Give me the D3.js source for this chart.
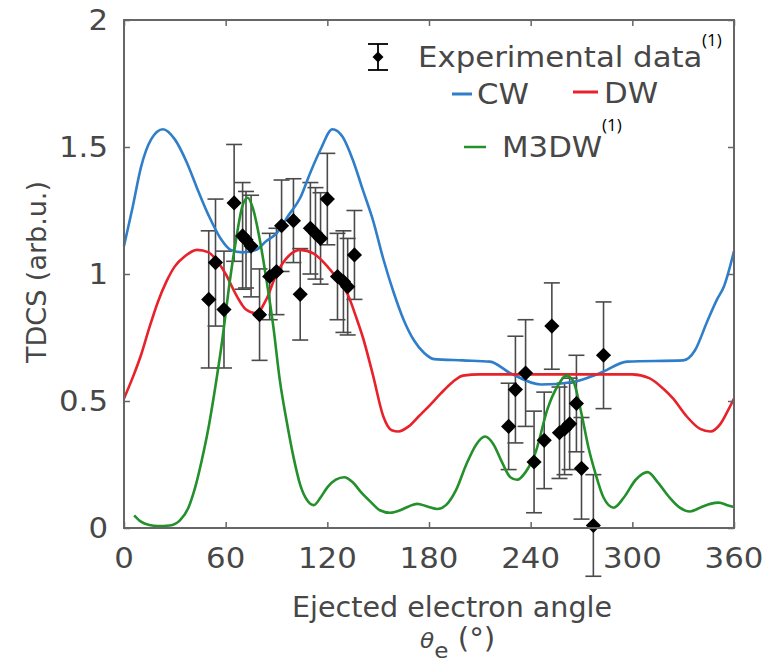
<!DOCTYPE html>
<html>
<head>
<meta charset="utf-8">
<title>TDCS</title>
<script src="https://cdnjs.cloudflare.com/ajax/libs/d3/7.8.5/d3.min.js"></script>
<style>
    body { margin: 0; background: #fff; }
    svg { display: block; }
    text { font-family: "DejaVu Sans", sans-serif; fill: #474747; }
    .sup { font-family: "Open Sans", sans-serif; fill: #000; }
</style>
</head>
<body>
<svg width="769" height="664"></svg>
<script>

// CW curve
var cwAngle = [0, 5, 10, 16, 23, 30, 37, 43, 50, 57, 63, 70, 78, 84, 90, 97, 104, 110, 116, 123, 129, 135, 141, 147, 153, 159, 165, 171, 177, 183, 200, 216, 228, 246, 265, 281, 297, 330, 337, 344, 350, 354, 360];
var cwValue = [1.11, 1.26, 1.42, 1.53, 1.57, 1.53, 1.44, 1.34, 1.23, 1.14, 1.095, 1.085, 1.095, 1.13, 1.16, 1.23, 1.30, 1.40, 1.49, 1.57, 1.54, 1.45, 1.33, 1.21, 1.06, 0.93, 0.82, 0.74, 0.69, 0.665, 0.66, 0.655, 0.61, 0.565, 0.575, 0.61, 0.655, 0.66, 0.70, 0.81, 0.90, 0.95, 1.09];

// DW curve
var dwAngle = [0, 5, 10, 15, 20, 25, 30, 36, 43, 50, 55, 60, 66, 72, 78, 84, 90, 97, 104, 112, 120, 126, 132, 137, 141, 147, 153, 158, 162, 168, 174, 180, 187, 194, 200, 210, 300, 310, 318, 324, 332, 340, 346, 352, 357, 360];
var dwValue = [0.51, 0.59, 0.68, 0.79, 0.89, 0.97, 1.03, 1.07, 1.095, 1.085, 1.05, 1.0, 0.92, 0.86, 0.845, 0.9, 1.0, 1.07, 1.095, 1.08, 1.03, 0.98, 0.92, 0.83, 0.75, 0.6, 0.44, 0.385, 0.38, 0.40, 0.44, 0.48, 0.53, 0.575, 0.60, 0.605, 0.605, 0.59, 0.55, 0.51, 0.44, 0.39, 0.38, 0.41, 0.47, 0.51];

// M3DW curve
var m3Angle = [6, 10, 15, 20, 27, 33, 38, 42, 46, 50, 54, 58, 62, 66, 70, 73, 76, 80, 84, 88, 92, 96, 100, 104, 108, 112, 116, 120, 125, 130, 135, 140, 146, 151, 157, 163, 168, 173, 179, 185, 190, 196, 202, 208, 213, 218, 223, 228, 232, 237, 243, 250, 256, 261, 265, 270, 274, 278, 283, 289, 295, 302, 309, 315, 322, 328, 334, 340, 346, 351, 356, 360];
var m3Value = [0.05, 0.025, 0.012, 0.008, 0.01, 0.03, 0.08, 0.16, 0.27, 0.40, 0.56, 0.74, 0.95, 1.13, 1.27, 1.30, 1.26, 1.14, 0.98, 0.80, 0.58, 0.42, 0.28, 0.17, 0.11, 0.09, 0.12, 0.16, 0.19, 0.20, 0.18, 0.14, 0.10, 0.07, 0.06, 0.07, 0.085, 0.095, 0.085, 0.075, 0.09, 0.15, 0.25, 0.33, 0.36, 0.33, 0.26, 0.20, 0.19, 0.22, 0.30, 0.47, 0.56, 0.60, 0.58, 0.45, 0.32, 0.22, 0.12, 0.08, 0.12, 0.19, 0.22, 0.18, 0.12, 0.08, 0.065, 0.08, 0.095, 0.10, 0.09, 0.083];

// experimental data
var expAngle = [50, 54, 59, 65, 70, 72, 75, 80, 86, 90, 93, 100, 104, 110, 113, 116, 120, 126, 129.5, 132, 136, 227, 231, 237, 242, 248, 252.5, 257, 260, 263, 267, 270, 277, 283];
var expValue = [0.90, 1.045, 0.86, 1.28, 1.15, 1.135, 1.11, 0.84, 0.99, 1.01, 1.19, 1.21, 0.92, 1.18, 1.16, 1.14, 1.295, 0.99, 0.97, 0.95, 1.075, 0.40, 0.545, 0.61, 0.26, 0.345, 0.795, 0.375, 0.39, 0.41, 0.49, 0.235, 0.01, 0.68];
var expError = [0.27, 0.25, 0.23, 0.23, 0.21, 0.19, 0.20, 0.18, 0.17, 0.17, 0.18, 0.165, 0.18, 0.18, 0.18, 0.18, 0.18, 0.17, 0.20, 0.19, 0.175, 0.17, 0.21, 0.21, 0.20, 0.19, 0.17, 0.18, 0.18, 0.18, 0.19, 0.20, 0.20, 0.21];

var xTicks = [0, 60, 120, 180, 240, 300, 360],
    yTicks = [0, 0.5, 1, 1.5, 2];

var mLeft = 124, mRight = 734, mTop = 20, mBottom = 528,
    svg = d3.select('svg');

var x = d3.scaleLinear().domain([0, 360]).range([mLeft, mRight]),
    y = d3.scaleLinear().domain([0, 2]).range([mBottom, mTop]);

function pairs(a, v) {
    return a.map(function (d, i) { return [d, v[i]]; });
}

// text slightly stretched sideways like the original export
function label(g, tx, ty, str, size, sx) {
    return g.append('text')
        .attr('transform', 'translate(' + tx + ',' + ty + ') scale(' + (sx || 1.1) + ',1)')
        .attr('font-size', size)
        .text(str);
}

var line = d3.line()
    .x(function (d) { return x(d[0]); })
    .y(function (d) { return y(d[1]); })
    .curve(d3.curveMonotoneX);

var plot = svg.append('g');

// error bars
var exp = expAngle.map(function (a, i) { return {a: a, v: expValue[i], e: expError[i]}; });
var bars = plot.append('g').attr('stroke', '#4a4a4a').attr('stroke-width', 1.6).attr('fill', 'none');
exp.forEach(function (d) {
    var cx = x(d.a), y0 = y(d.v - d.e), y1 = y(d.v + d.e);
    bars.append('line').attr('x1', cx).attr('x2', cx).attr('y1', y0).attr('y2', y1);
    bars.append('line').attr('x1', cx - 8).attr('x2', cx + 8).attr('y1', y0).attr('y2', y0);
    bars.append('line').attr('x1', cx - 8).attr('x2', cx + 8).attr('y1', y1).attr('y2', y1);
});

// theory curves
var series = [
    {a: cwAngle, v: cwValue, c: '#2f7ec9'},
    {a: dwAngle, v: dwValue, c: '#e8222a'},
    {a: m3Angle, v: m3Value, c: '#23902b'}
];
series.forEach(function (s) {
    plot.append('path')
        .datum(pairs(s.a, s.v))
        .attr('d', line)
        .attr('fill', 'none')
        .attr('stroke', s.c)
        .attr('stroke-width', 2.6);
});

// data markers
var diamond = d3.symbol().type(d3.symbolSquare).size(115);
plot.append('g').selectAll('path')
    .data(exp)
    .enter().append('path')
    .attr('d', diamond)
    .attr('transform', function (d) { return 'translate(' + x(d.a) + ',' + y(d.v) + ') rotate(45)'; })
    .attr('fill', '#000');

// axes box and ticks
var axisColor = '#666';
svg.append('rect')
    .attr('x', mLeft).attr('y', mTop)
    .attr('width', mRight - mLeft).attr('height', mBottom - mTop)
    .attr('fill', 'none').attr('stroke', axisColor).attr('stroke-width', 2);

var xb = svg.append('g').attr('transform', 'translate(0,' + mBottom + ')')
    .call(d3.axisBottom(x).tickValues(xTicks).tickSize(-6).tickFormat(''));
var xt = svg.append('g').attr('transform', 'translate(0,' + mTop + ')')
    .call(d3.axisTop(x).tickValues(xTicks).tickSize(-6).tickFormat(''));
var yl = svg.append('g').attr('transform', 'translate(' + mLeft + ',0)')
    .call(d3.axisLeft(y).tickValues(yTicks).tickSize(-6).tickFormat(''));
var yr = svg.append('g').attr('transform', 'translate(' + mRight + ',0)')
    .call(d3.axisRight(y).tickValues(yTicks).tickSize(-6).tickFormat(''));

[xb, xt, yl, yr].forEach(function (g) {
    g.select('.domain').remove();
    g.selectAll('.tick line').attr('stroke', axisColor).attr('stroke-width', 1.5);
    g.selectAll('.tick text').remove();
});

// tick labels placed by the same scales
var tl = svg.append('g');
xTicks.forEach(function (t) {
    label(tl, x(t), 568, t, 28).attr('text-anchor', 'middle');
});
yTicks.forEach(function (t) {
    label(tl, 108, y(t) + 10, t, 28).attr('text-anchor', 'end');
});

// axis titles
svg.append('text')
    .attr('transform', 'translate(46,272) rotate(-90)')
    .attr('text-anchor', 'middle')
    .attr('font-size', 27)
    .text('TDCS (arb.u.)');

label(svg, 452, 617, 'Ejected electron angle', 28, 1.02).attr('text-anchor', 'middle');

var th = svg.append('text').attr('transform', 'translate(420,648) scale(1.05,1)').attr('font-size', 22);
th.append('tspan').attr('font-style', 'italic').text('θ');
th.append('tspan').attr('dy', 10).attr('font-size', 22).text('e');
th.append('tspan').attr('dy', -10).attr('font-size', 28).text(' (°)');

// legend
var lg = svg.append('g');
lg.append('line').attr('x1', 378).attr('x2', 378).attr('y1', 44).attr('y2', 70).attr('stroke', '#000').attr('stroke-width', 1.8);
lg.append('line').attr('x1', 368).attr('x2', 388).attr('y1', 44).attr('y2', 44).attr('stroke', '#000').attr('stroke-width', 1.8);
lg.append('line').attr('x1', 368).attr('x2', 388).attr('y1', 70).attr('y2', 70).attr('stroke', '#000').attr('stroke-width', 1.8);
lg.append('path').attr('d', d3.symbol().type(d3.symbolSquare).size(60)).attr('transform', 'translate(378,57) rotate(45)').attr('fill', '#000');
label(lg, 418, 67, 'Experimental data', 28);
lg.append('text').attr('class', 'sup').attr('x', 702).attr('y', 46).attr('font-size', 17).text('(1)');

lg.append('line').attr('x1', 452).attr('x2', 472).attr('y1', 94).attr('y2', 94).attr('stroke', series[0].c).attr('stroke-width', 3);
label(lg, 477, 104, 'CW', 28);
lg.append('line').attr('x1', 573).attr('x2', 598).attr('y1', 92).attr('y2', 92).attr('stroke', series[1].c).attr('stroke-width', 3);
label(lg, 604, 103, 'DW', 28);
lg.append('line').attr('x1', 464).attr('x2', 486).attr('y1', 147).attr('y2', 147).attr('stroke', series[2].c).attr('stroke-width', 2.5);
label(lg, 502, 157, 'M3DW', 28);
lg.append('text').attr('class', 'sup').attr('x', 602).attr('y', 131).attr('font-size', 17).text('(1)');

</script>
</body>
</html>
